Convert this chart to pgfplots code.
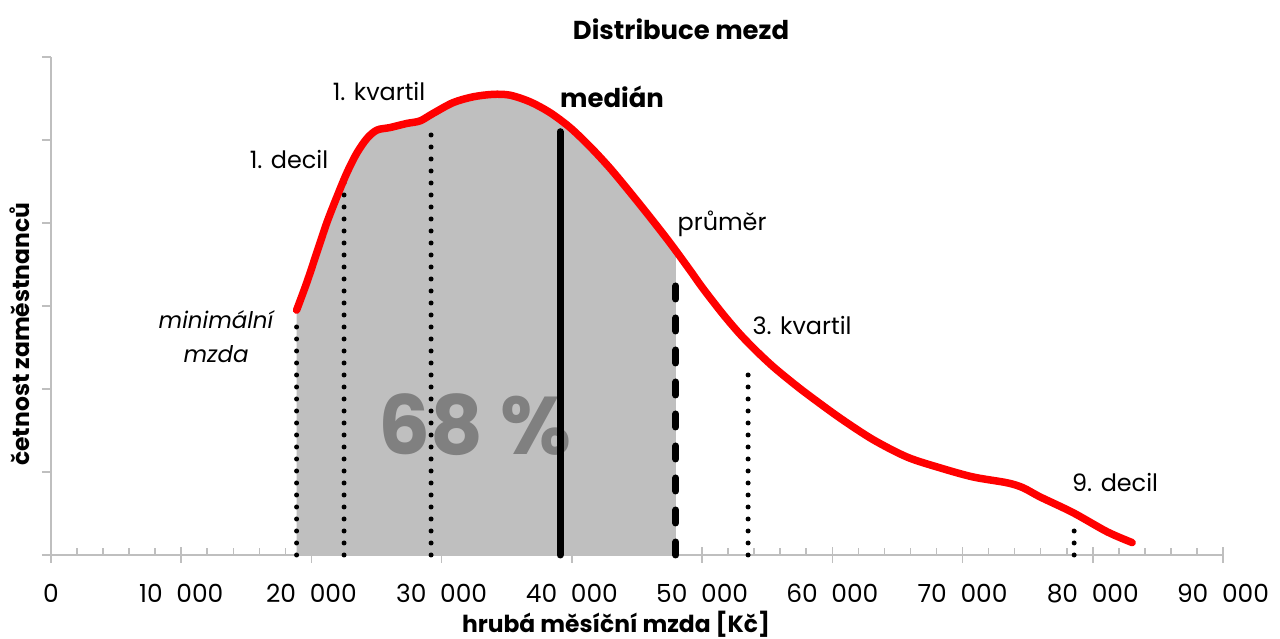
\documentclass[border=0pt]{standalone}
\usepackage{fontspec}
\setmainfont{Poppins}
\usepackage{pgfplots}
\pgfplotsset{compat=1.18}
\usepgfplotslibrary{fillbetween}
\definecolor{axisgray}{HTML}{BFBFBF}
\definecolor{areagray}{HTML}{BFBFBF}
\definecolor{bigtxt}{HTML}{808080}

% wage distribution curve (x in CZK, y arbitrary frequency)
\pgfplotstableread{
x      y
18860  2.95
19638  3.28
20406  3.64
21174  4.00
21942  4.31
22710  4.60
23478  4.84
24269  5.02
25037  5.12
26035  5.15
27341  5.20
28339  5.23
29338  5.32
30874  5.45
32410  5.52
33946  5.55
35251  5.54
36787  5.46
38323  5.33
39859  5.15
41395  4.92
42931  4.66
44467  4.37
46003  4.07
47539  3.76
49075  3.43
50074  3.21
51610  2.90
52915  2.66
54221  2.45
55450  2.27
56755  2.10
58061  1.94
60595  1.65
63130  1.39
65741  1.18
68275  1.05
70810  0.94
73421  0.87
74650  0.81
75955  0.70
78490  0.51
81101  0.28
83021  0.15
}\curvedata

\begin{document}
\begin{tikzpicture}
\begin{axis}[
    at={(51bp,84bp)}, anchor=south west,
    scale only axis, width=1172bp, height=498bp,
    xmin=0, xmax=90000, ymin=0, ymax=6,
    clip=false,
    axis lines=left,
    axis line style={axisgray, line width=1.6bp, -},
    scaled x ticks=false,
    xtick={0,10000,...,90000},
    xticklabels={0,10\hspace{0.55em}000,20\hspace{0.55em}000,30\hspace{0.55em}000,40\hspace{0.55em}000,
                 50\hspace{0.55em}000,60\hspace{0.55em}000,70\hspace{0.55em}000,80\hspace{0.55em}000,90\hspace{0.55em}000},
    minor x tick num=4,
    ytick=\empty,
    extra y ticks={0,1,...,6}, extra y tick labels={},
    extra y tick style={major tick length=9bp, tick align=outside},
    xtick align=center,
    major tick length=16bp, minor tick length=7bp,
    every tick/.style={axisgray, line width=1.6bp},
    every minor x tick/.append style={yshift=3.5bp},
    xticklabel style={font=\fontsize{25}{25}\selectfont, yshift=-18bp},
]
% grey area between minimal wage and the mean
\addplot[name path=curve, draw=none, smooth] table {\curvedata};
\addplot[name path=base, draw=none] coordinates {(18860,0) (83021,0)};
\addplot[areagray, draw=none] fill between[of=curve and base, soft clip={domain=18860:47977}];

\node[font=\fontsize{82}{82}\selectfont\bfseries, text=bigtxt] at (axis cs:32563,1.57) {68 \%};

% quantile markers
\addplot[black, line width=5bp, line cap=round, dash pattern=on 0bp off 12bp] coordinates {(18860,0) (18860,2.86)};
\addplot[black, line width=5bp, line cap=round, dash pattern=on 0bp off 12bp] coordinates {(22504,0) (22504,4.49)};
\addplot[black, line width=5bp, line cap=round, dash pattern=on 0bp off 12bp] coordinates {(29186,0) (29186,5.07)};
\addplot[black, line width=7bp, line cap=round] coordinates {(39091,0) (39091,5.10)};
\addplot[black, line width=7bp, line cap=round, dash pattern=on 13bp off 19bp] coordinates {(47977,0) (47977,3.31)};
\addplot[black, line width=5bp, line cap=round, dash pattern=on 0bp off 12bp] coordinates {(53533,0) (53533,2.31)};
\addplot[black, line width=5bp, line cap=round, dash pattern=on 0bp off 12bp] coordinates {(78571,0) (78571,0.30)};

% the curve itself
\addplot[red, line width=7.5bp, line cap=round, line join=round, smooth] table {\curvedata};

% annotations
\begin{scope}[every node/.style={font=\fontsize{24}{28}\selectfont}]
\node at (axis cs:18278,4.76) {1. decil};
\node at (axis cs:25190,5.58) {1. kvartil};
\node[font=\fontsize{26}{28}\selectfont\bfseries] at (axis cs:43085,5.52) {medián};
\node at (axis cs:51533,3.99) {průměr};
\node at (axis cs:57677,2.77) {3. kvartil};
\node at (axis cs:81715,0.87) {9. decil};
\node[align=center, font=\fontsize{23}{34}\selectfont\itshape] at (axis cs:12672,2.63) {minimální\\mzda};
\node[font=\fontsize{26}{28}\selectfont\bfseries] at (axis cs:48384,6.34) {Distribuce mezd};
\node[font=\fontsize{23.5}{27}\selectfont\bfseries] at (axis cs:43392,-0.83) {hrubá měsíční mzda [Kč]};
\node[font=\fontsize{23.5}{27}\selectfont\bfseries, rotate=90] at (axis cs:-2381,2.66) {četnost zaměstnanců};
\end{scope}
\end{axis}
\pgfresetboundingbox
\path[use as bounding box] (0,0) rectangle (1280bp,639bp);
\end{tikzpicture}
\end{document}
